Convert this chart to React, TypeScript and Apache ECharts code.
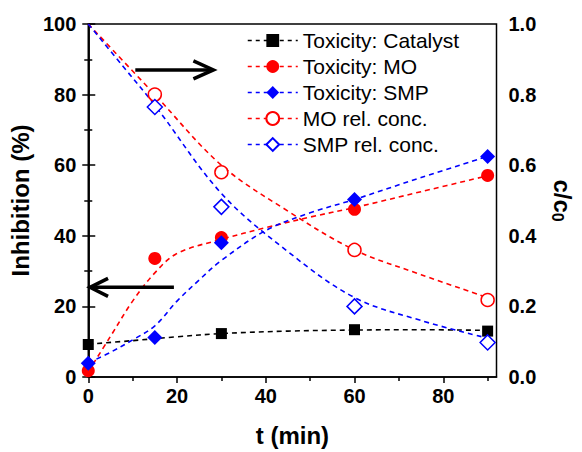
import React, { useEffect, useRef } from "react";
import * as echarts from "echarts";

const FONT = "Arial, 'Liberation Sans', sans-serif";

// measured time points (min)
const tMeasured = [0, 15, 30, 60, 90];
const tCatalyst = [0, 30, 60, 90];
// Inhibition (%) - left axis
const toxCatalyst = [9.2, 12.3, 13.4, 13.0];
const toxMO = [1.8, 33.6, 39.5, 47.5, 57.1];
const toxSMP = [3.9, 11.2, 38.0, 50.3, 62.5];
// relative concentration c/c0 - right axis
const relMO = [1.0, 0.8, 0.58, 0.36, 0.218];
const relSMP = [1.0, 0.765, 0.482, 0.2, 0.098];

// fitted (dashed) curves
const fitCatalystT = [0, 10, 20, 30, 45, 60, 75, 90];
const fitCatalyst = [9.3, 10.3, 11.4, 12.3, 13.0, 13.3, 13.4, 13.2];
const fitMOToxT = [0, 5, 10, 15, 20, 30, 40, 50, 60, 75, 90];
const fitMOTox = [1.5, 11.5, 21.5, 29.5, 35, 39, 42.3, 45.3, 48, 52.5, 57];
const fitSMPToxT = [0, 5, 10, 15, 20, 25, 30, 40, 50, 60, 75, 90];
const fitSMPTox = [4, 7, 10.5, 14.5, 21.5, 27.5, 33, 41.5, 46.5, 50.3, 56.5, 62.5];
const fitMORelT = [0, 15, 30, 45, 60, 75, 90];
const fitMORel = [1.0, 0.8, 0.6, 0.47, 0.36, 0.29, 0.225];
const fitSMPRelT = [0, 7.5, 15, 30, 45, 60, 75, 90];
const fitSMPRel = [1.0, 0.885, 0.77, 0.52, 0.355, 0.225, 0.16, 0.11];

const xTickValues = [0, 20, 40, 60, 80];
const xMinorTickValues = [10, 30, 50, 70, 90];

const names = [
  "Toxicity: Catalyst",
  "Toxicity: MO",
  "Toxicity: SMP",
  "MO rel. conc.",
  "SMP rel. conc.",
];

const RED = "#ff0000";
const BLUE = "#0000ff";
const BLACK = "#000000";
const DASH = [5, 4];

const zip = (xs: number[], ys: number[]) => xs.map((x, i) => [x, ys[i]]);

export default function App() {
  const ref = useRef<HTMLDivElement>(null);
  useEffect(() => {
    if (!ref.current) return;
    const chart = echarts.init(ref.current, null, { renderer: "svg" });

    const pointSeries = (
      name: string,
      data: any[],
      symbol: string,
      size: number,
      color: string,
      filled: boolean,
      yAxisIndex: number
    ) => ({
      name,
      type: "line",
      yAxisIndex,
      data,
      symbol,
      symbolSize: size,
      showSymbol: true,
      clip: false,
      z: 5,
      lineStyle: { opacity: 0, color, width: 1.5, type: DASH },
      itemStyle: filled
        ? { color, borderColor: color, borderWidth: 0 }
        : { color: "#ffffff", borderColor: color, borderWidth: 1.5 },
    });

    const curve = (data: number[][], color: string, yAxisIndex: number) => ({
      type: "line",
      yAxisIndex,
      data,
      smooth: 0.35,
      symbol: "none",
      silent: true,
      z: 3,
      lineStyle: { color, width: 1.6, type: DASH },
    });

    const hideAtEdge = (xs: number[], ys: number[]) =>
      xs.map((x, i) =>
        ys[i] >= 1 ? { value: [x, ys[i]], symbolSize: 0 } : { value: [x, ys[i]] }
      );

    const axisLine = { show: true, lineStyle: { color: BLACK, width: 1.5 } };
    const labelStyle = {
      color: BLACK,
      fontSize: 20,
      fontWeight: "bold" as const,
      fontFamily: FONT,
    };

    chart.setOption({
      animation: false,
      backgroundColor: "#ffffff",
      grid: {
        left: 86,
        right: 80,
        top: 24,
        bottom: 74,
        show: true,
        borderColor: BLACK,
        borderWidth: 1.5,
      },
      legend: {
        orient: "vertical",
        left: 242,
        top: 25,
        itemWidth: 50,
        itemHeight: 16,
        itemGap: 5,
        data: names,
        textStyle: { color: BLACK, fontSize: 21, fontFamily: FONT },
        lineStyle: { opacity: 1, width: 1.5, type: [4, 4] },
      },
      xAxis: [
        {
          type: "value",
          min: 0,
          max: 92,
          interval: 20,
          name: "t (min)",
          nameLocation: "middle",
          nameGap: 46,
          nameTextStyle: { ...labelStyle, fontSize: 24 },
          axisLine,
          axisTick: {
            show: true,
            inside: false,
            length: 6,
            customValues: xTickValues,
            lineStyle: { color: BLACK, width: 1.5 },
          },
          axisLabel: { ...labelStyle, margin: 9, customValues: xTickValues },
          splitLine: { show: false },
        },
        {
          type: "value",
          min: 0,
          max: 92,
          position: "bottom",
          axisLine: { show: false },
          axisTick: {
            show: true,
            inside: false,
            length: 4,
            customValues: xMinorTickValues,
            lineStyle: { color: BLACK, width: 1.5 },
          },
          axisLabel: { show: false },
          splitLine: { show: false },
        },
      ],
      yAxis: [
        {
          type: "value",
          min: 0,
          max: 100,
          interval: 20,
          position: "left",
          name: "Inhibition (%)",
          nameLocation: "middle",
          nameGap: 50,
          nameTextStyle: { ...labelStyle, fontSize: 24 },
          axisLine,
          axisTick: { show: true, inside: false, length: 6, lineStyle: { color: BLACK, width: 1.5 } },
          minorTick: { show: true, splitNumber: 2, length: 4, lineStyle: { color: BLACK, width: 1.5 } },
          axisLabel: { ...labelStyle, margin: 12 },
          splitLine: { show: false },
          minorSplitLine: { show: false },
        },
        {
          type: "value",
          min: 0,
          max: 1,
          interval: 0.2,
          position: "right",
          name: "{a|c/c}{b|0}",
          nameLocation: "middle",
          nameGap: 53,
          nameRotate: -90,
          nameTextStyle: {
            ...labelStyle,
            rich: {
              a: { fontSize: 24, fontWeight: "bold", fontFamily: FONT, color: BLACK },
              b: {
                fontSize: 16,
                fontWeight: "bold",
                fontFamily: FONT,
                color: BLACK,
                padding: [9, 0, 0, 0],
              },
            },
          },
          axisLine,
          axisTick: { show: true, inside: false, length: 7, lineStyle: { color: BLACK, width: 1.5 } },
          minorTick: { show: true, splitNumber: 2, length: 4, lineStyle: { color: BLACK, width: 1.5 } },
          axisLabel: { ...labelStyle, margin: 12, formatter: (v: number) => v.toFixed(1) },
          splitLine: { show: false },
          minorSplitLine: { show: false },
        },
      ],
      series: [
        curve(zip(fitCatalystT, fitCatalyst), BLACK, 0),
        curve(zip(fitMOToxT, fitMOTox), RED, 0),
        curve(zip(fitSMPToxT, fitSMPTox), BLUE, 0),
        curve(zip(fitMORelT, fitMORel), RED, 1),
        curve(zip(fitSMPRelT, fitSMPRel), BLUE, 1),
        pointSeries(names[0], zip(tCatalyst, toxCatalyst), "rect", 11, BLACK, true, 0),
        pointSeries(names[1], zip(tMeasured, toxMO), "circle", 13, RED, true, 0),
        pointSeries(names[2], zip(tMeasured, toxSMP), "diamond", 15, BLUE, true, 0),
        pointSeries(names[3], hideAtEdge(tMeasured, relMO), "circle", 13, RED, false, 1),
        pointSeries(names[4], hideAtEdge(tMeasured, relSMP), "diamond", 15, BLUE, false, 1),
      ],
    });

    // annotation arrows, anchored in data space
    const p = (x: number, y: number) =>
      chart.convertToPixel({ xAxisIndex: 0, yAxisIndex: 0 }, [x, y]) as number[];
    const a1s = p(10.6, 87);
    const a1e = p(28.2, 87);
    const a2s = p(19.3, 25.4);
    const a2e = p(0.4, 25.4);
    const arrowStyle = { stroke: BLACK, lineWidth: 3.5, fill: "none", lineCap: "butt", lineJoin: "miter" };
    chart.setOption({
      graphic: [
        { type: "line", shape: { x1: a1s[0], y1: a1s[1], x2: a1e[0] - 2, y2: a1e[1] }, style: arrowStyle, z: 10 },
        {
          type: "polyline",
          shape: { points: [[a1e[0] - 20, a1e[1] - 9], [a1e[0], a1e[1]], [a1e[0] - 20, a1e[1] + 9]] },
          style: arrowStyle,
          z: 10,
        },
        { type: "line", shape: { x1: a2s[0], y1: a2s[1], x2: a2e[0] + 2, y2: a2e[1] }, style: arrowStyle, z: 10 },
        {
          type: "polyline",
          shape: { points: [[a2e[0] + 18, a2e[1] - 9], [a2e[0], a2e[1]], [a2e[0] + 18, a2e[1] + 9]] },
          style: arrowStyle,
          z: 10,
        },
      ],
    });

    return () => chart.dispose();
  }, []);
  return (
    <div
      ref={ref}
      style={{ position: "fixed", left: 0, top: 0, width: 582, height: 452, background: "#fff" }}
    />
  );
}
